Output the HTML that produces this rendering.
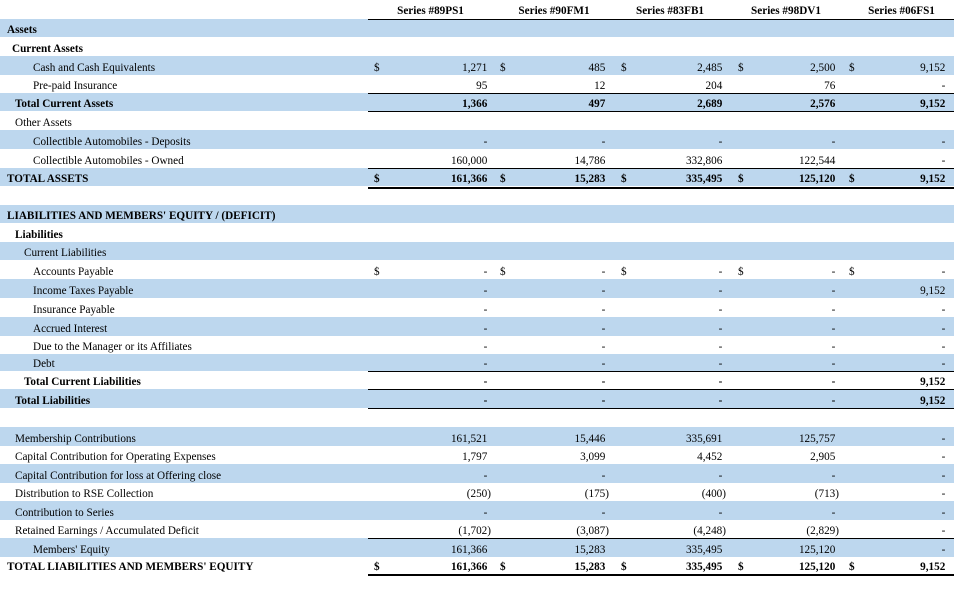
<!DOCTYPE html>
<html>
<head>
<meta charset="utf-8">
<style>
html,body{margin:0;padding:0}
body{width:954px;height:595px;position:relative;background:#fff;font-family:"Liberation Serif","Times New Roman",serif;font-size:11.2px;color:#000;overflow:hidden}
.r{position:absolute;left:0;width:954px}
.bl{background:#BDD7EE}
.r span{position:absolute;bottom:0.8px;line-height:12px;white-space:nowrap}
.b span{font-weight:bold}
.d1{left:374px}.d2{left:500px}.d3{left:621px}.d4{left:738px}.d5{left:849px}
.v1{right:463px}.v2{right:345px}.v3{right:228px}.v4{right:115px}.v5{right:5px}
.p{padding-right:3.7px}
.ln{position:absolute;left:368px;width:586px;height:1px;background:#000}
.dl{height:2px}
.h span{bottom:2.5px;font-weight:bold;transform:translateX(-50%)}
</style>
</head>
<body>

<div class="r h" style="top:0;height:19px">
<span style="left:430.5px">Series #89PS1</span>
<span style="left:554px">Series #90FM1</span>
<span style="left:670px">Series #83FB1</span>
<span style="left:786px">Series #98DV1</span>
<span style="left:901.5px">Series #06FS1</span>
</div>

<div class="r bl b" style="top:19px;height:18px"><span style="left:7px">Assets</span></div>
<div class="r b" style="top:37px;height:19px"><span style="left:12px">Current Assets</span></div>

<div class="r bl" style="top:56px;height:19px"><span style="left:33px">Cash and Cash Equivalents</span>
<span class="d1">$</span><span class="d2">$</span><span class="d3">$</span><span class="d4">$</span><span class="d5">$</span>
<span class="v1 p">1,271</span><span class="v2 p">485</span><span class="v3 p">2,485</span><span class="v4 p">2,500</span><span class="v5 p">9,152</span></div>

<div class="r" style="top:75px;height:18px"><span style="left:33px">Pre-paid Insurance</span>
<span class="v1 p">95</span><span class="v2 p">12</span><span class="v3 p">204</span><span class="v4 p">76</span><span class="v5 p">-</span></div>

<div class="r bl b" style="top:93px;height:18px"><span style="left:15px">Total Current Assets</span>
<span class="v1 p">1,366</span><span class="v2 p">497</span><span class="v3 p">2,689</span><span class="v4 p">2,576</span><span class="v5 p">9,152</span></div>

<div class="r" style="top:111px;height:19px"><span style="left:15px">Other Assets</span></div>

<div class="r bl" style="top:130px;height:19px"><span style="left:33px">Collectible Automobiles - Deposits</span>
<span class="v1 p">-</span><span class="v2 p">-</span><span class="v3 p">-</span><span class="v4 p">-</span><span class="v5 p">-</span></div>

<div class="r" style="top:149px;height:19px"><span style="left:33px">Collectible Automobiles - Owned</span>
<span class="v1 p">160,000</span><span class="v2 p">14,786</span><span class="v3 p">332,806</span><span class="v4 p">122,544</span><span class="v5 p">-</span></div>

<div class="r bl b" style="top:168px;height:18px"><span style="left:7px">TOTAL ASSETS</span>
<span class="d1">$</span><span class="d2">$</span><span class="d3">$</span><span class="d4">$</span><span class="d5">$</span>
<span class="v1 p">161,366</span><span class="v2 p">15,283</span><span class="v3 p">335,495</span><span class="v4 p">125,120</span><span class="v5 p">9,152</span></div>

<div class="r bl b" style="top:205px;height:18px"><span style="left:7px">LIABILITIES AND MEMBERS' EQUITY / (DEFICIT)</span></div>
<div class="r b" style="top:223px;height:19px"><span style="left:15px">Liabilities</span></div>
<div class="r bl" style="top:242px;height:18px"><span style="left:24px">Current Liabilities</span></div>

<div class="r" style="top:260px;height:19px"><span style="left:33px">Accounts Payable</span>
<span class="d1">$</span><span class="d2">$</span><span class="d3">$</span><span class="d4">$</span><span class="d5">$</span>
<span class="v1 p">-</span><span class="v2 p">-</span><span class="v3 p">-</span><span class="v4 p">-</span><span class="v5 p">-</span></div>

<div class="r bl" style="top:279px;height:19px"><span style="left:33px">Income Taxes Payable</span>
<span class="v1 p">-</span><span class="v2 p">-</span><span class="v3 p">-</span><span class="v4 p">-</span><span class="v5 p">9,152</span></div>

<div class="r" style="top:298px;height:19px"><span style="left:33px">Insurance Payable</span>
<span class="v1 p">-</span><span class="v2 p">-</span><span class="v3 p">-</span><span class="v4 p">-</span><span class="v5 p">-</span></div>

<div class="r bl" style="top:317px;height:19px"><span style="left:33px">Accrued Interest</span>
<span class="v1 p">-</span><span class="v2 p">-</span><span class="v3 p">-</span><span class="v4 p">-</span><span class="v5 p">-</span></div>

<div class="r" style="top:336px;height:18px"><span style="left:33px">Due to the Manager or its Affiliates</span>
<span class="v1 p">-</span><span class="v2 p">-</span><span class="v3 p">-</span><span class="v4 p">-</span><span class="v5 p">-</span></div>

<div class="r bl" style="top:354px;height:17px"><span style="left:33px">Debt</span>
<span class="v1 p">-</span><span class="v2 p">-</span><span class="v3 p">-</span><span class="v4 p">-</span><span class="v5 p">-</span></div>

<div class="r b" style="top:371px;height:18px"><span style="left:24px">Total Current Liabilities</span>
<span class="v1 p">-</span><span class="v2 p">-</span><span class="v3 p">-</span><span class="v4 p">-</span><span class="v5 p">9,152</span></div>

<div class="r bl b" style="top:389px;height:19px"><span style="left:15px">Total Liabilities</span>
<span class="v1 p">-</span><span class="v2 p">-</span><span class="v3 p">-</span><span class="v4 p">-</span><span class="v5 p">9,152</span></div>

<div class="r bl" style="top:427px;height:19px"><span style="left:15px">Membership Contributions</span>
<span class="v1 p">161,521</span><span class="v2 p">15,446</span><span class="v3 p">335,691</span><span class="v4 p">125,757</span><span class="v5 p">-</span></div>

<div class="r" style="top:446px;height:18px"><span style="left:15px">Capital Contribution for Operating Expenses</span>
<span class="v1 p">1,797</span><span class="v2 p">3,099</span><span class="v3 p">4,452</span><span class="v4 p">2,905</span><span class="v5 p">-</span></div>

<div class="r bl" style="top:464px;height:19px"><span style="left:15px">Capital Contribution for loss at Offering close</span>
<span class="v1 p">-</span><span class="v2 p">-</span><span class="v3 p">-</span><span class="v4 p">-</span><span class="v5 p">-</span></div>

<div class="r" style="top:483px;height:18px"><span style="left:15px">Distribution to RSE Collection</span>
<span class="v1">(250)</span><span class="v2">(175)</span><span class="v3">(400)</span><span class="v4">(713)</span><span class="v5 p">-</span></div>

<div class="r bl" style="top:501px;height:19px"><span style="left:15px">Contribution to Series</span>
<span class="v1 p">-</span><span class="v2 p">-</span><span class="v3 p">-</span><span class="v4 p">-</span><span class="v5 p">-</span></div>

<div class="r" style="top:520px;height:18px"><span style="left:15px">Retained Earnings / Accumulated Deficit</span>
<span class="v1">(1,702)</span><span class="v2">(3,087)</span><span class="v3">(4,248)</span><span class="v4">(2,829)</span><span class="v5 p">-</span></div>

<div class="r bl" style="top:538px;height:19px"><span style="left:33px">Members' Equity</span>
<span class="v1 p">161,366</span><span class="v2 p">15,283</span><span class="v3 p">335,495</span><span class="v4 p">125,120</span><span class="v5 p">-</span></div>

<div class="r b" style="top:557px;height:17px"><span style="left:7px">TOTAL LIABILITIES AND MEMBERS' EQUITY</span>
<span class="d1">$</span><span class="d2">$</span><span class="d3">$</span><span class="d4">$</span><span class="d5">$</span>
<span class="v1 p">161,366</span><span class="v2 p">15,283</span><span class="v3 p">335,495</span><span class="v4 p">125,120</span><span class="v5 p">9,152</span></div>

<div class="ln" style="top:19px"></div>
<div class="ln" style="top:93px"></div>
<div class="ln" style="top:111px"></div>
<div class="ln" style="top:168px"></div>
<div class="ln dl" style="top:187px"></div>
<div class="ln" style="top:371px"></div>
<div class="ln" style="top:389px"></div>
<div class="ln" style="top:408px"></div>
<div class="ln" style="top:538px"></div>
<div class="ln dl" style="top:574px"></div>

</body>
</html>
